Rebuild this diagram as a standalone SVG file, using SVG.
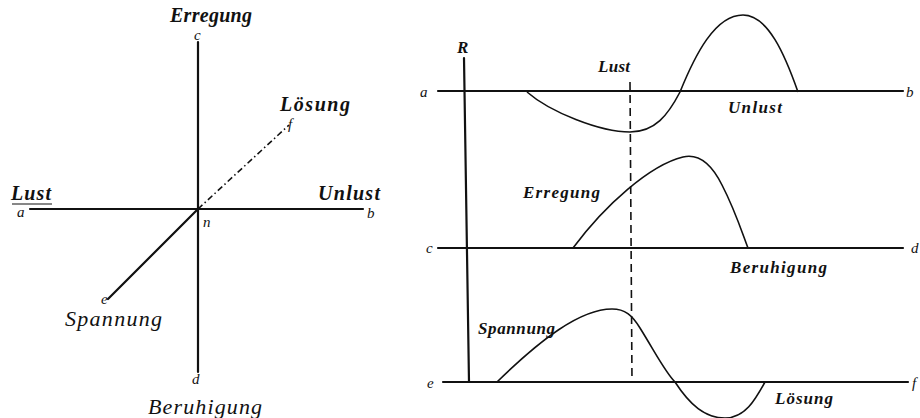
<svg xmlns="http://www.w3.org/2000/svg" width="920" height="418" viewBox="0 0 920 418">
<style>
.ax{stroke:#111;stroke-width:2.2;fill:none;stroke-linecap:round}
.cv{stroke:#111;stroke-width:1.6;fill:none}
.big{font-family:"Liberation Serif",serif;font-style:italic;font-weight:bold;font-size:20px;fill:#111}
.reg{font-weight:normal;font-size:22px}
.sm{font-family:"Liberation Serif",serif;font-style:italic;font-weight:bold;font-size:17px;fill:#111}
.let{font-family:"Liberation Serif",serif;font-style:italic;font-size:15px;fill:#111}
</style>
<rect width="920" height="418" fill="#fff"/>
<g id="left-diagram">
  <g id="connectors-left">
    <line class="ax" x1="198" y1="42" x2="198" y2="372"/>
    <line class="ax" x1="30" y1="209" x2="363" y2="209"/>
    <line x1="12" y1="204" x2="52" y2="204" stroke="#111" stroke-width="1.2"/>
    <line class="ax" x1="198" y1="209" x2="108" y2="299" stroke-width="1.8"/>
    <line x1="198" y1="209" x2="289" y2="125" stroke="#111" stroke-width="1.6" stroke-dasharray="6 3 1.5 3"/>
  </g>
  <g id="node-erregung"><text class="big" x="170" y="22" textLength="82">Erregung</text><text class="let" x="194" y="40">c</text></g>
  <g id="node-beruhigung"><text class="big reg" x="148" y="414" textLength="114">Beruhigung</text><text class="let" x="192" y="384">d</text></g>
  <g id="node-lust"><text class="big" x="11" y="200" textLength="40">Lust</text><text class="let" x="17" y="217">a</text></g>
  <g id="node-unlust"><text class="big" x="318" y="200" textLength="62">Unlust</text><text class="let" x="367" y="218">b</text></g>
  <g id="node-n"><text class="let" x="203" y="227" font-size="16">n</text></g>
  <g id="node-loesung"><text class="big" x="280" y="111" textLength="70">Lösung</text><text class="let" x="288" y="129">f</text></g>
  <g id="node-spannung"><text class="big reg" x="65" y="326" textLength="97">Spannung</text><text class="let" x="101" y="304">e</text></g>
</g>
<g id="right-diagram">
  <g id="connectors-right">
    <line class="ax" x1="464" y1="58" x2="469" y2="382" stroke-width="2"/>
    <line class="ax" x1="438" y1="91" x2="903" y2="91"/>
    <line class="ax" x1="438" y1="248" x2="903" y2="248"/>
    <line class="ax" x1="443" y1="382" x2="908" y2="382"/>
    <line x1="630" y1="82" x2="632" y2="382" stroke="#111" stroke-width="1.6" stroke-dasharray="8 5"/>
    <path class="cv" d="M527,92 C550,112 600,132 630,132 C655,132 668,115 680,92 C695,55 715,15 743,15 C768,15 785,55 798,92"/>
    <path class="cv" d="M573,248 C605,205 650,165 683,157 C700,153 712,165 722,185 C735,210 743,235 748,248"/>
    <path class="cv" d="M497,382 C540,340 580,309 612,309 C625,309 632,315 640,328 C655,352 665,372 675,382 C690,405 705,418 725,418 C745,418 755,400 765,382"/>
  </g>
  <g id="node-R"><text class="sm" x="457" y="53">R</text></g>
  <g id="node-a"><text class="let" x="420" y="97">a</text></g>
  <g id="node-b"><text class="let" x="906" y="97">b</text></g>
  <g id="node-c"><text class="let" x="426" y="253">c</text></g>
  <g id="node-d"><text class="let" x="911" y="253">d</text></g>
  <g id="node-e"><text class="let" x="427" y="388">e</text></g>
  <g id="node-f"><text class="let" x="912" y="388">f</text></g>
  <g id="node-lust-r"><text class="sm" x="598" y="72" textLength="32">Lust</text></g>
  <g id="node-unlust-r"><text class="sm" x="728" y="113" textLength="54">Unlust</text></g>
  <g id="node-erregung-r"><text class="sm" x="523" y="198" textLength="77">Erregung</text></g>
  <g id="node-beruhigung-r"><text class="sm" x="730" y="273" textLength="97">Beruhigung</text></g>
  <g id="node-spannung-r"><text class="sm" x="478" y="334" textLength="77">Spannung</text></g>
  <g id="node-loesung-r"><text class="sm" x="775" y="404" textLength="58">Lösung</text></g>
</g>
</svg>
